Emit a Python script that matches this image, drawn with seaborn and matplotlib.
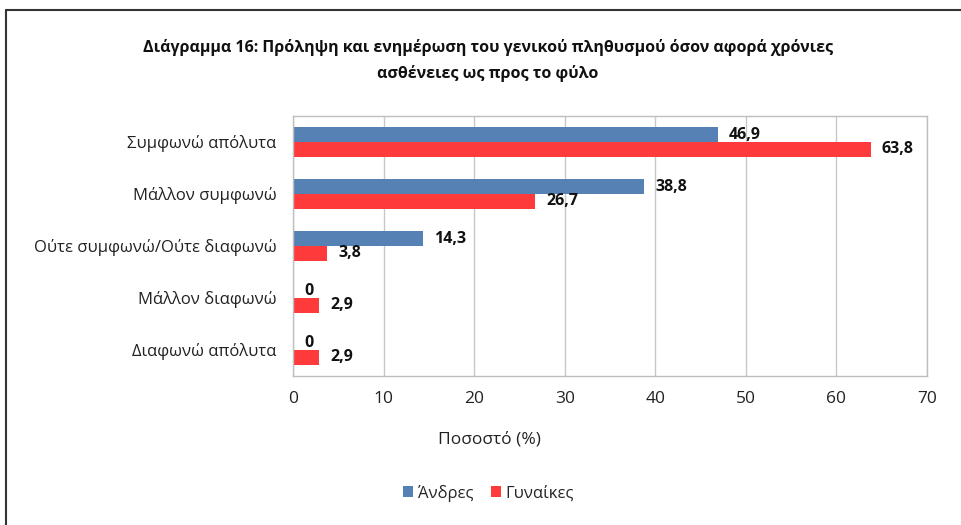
import matplotlib
matplotlib.use("Agg")
import matplotlib.pyplot as plt
from matplotlib.lines import Line2D
from matplotlib.patches import Patch
import seaborn as sns
import pandas as pd

categories = ["Συμφωνώ απόλυτα", "Μάλλον συμφωνώ", "Ούτε συμφωνώ/Ούτε διαφωνώ",
              "Μάλλον διαφωνώ", "Διαφωνώ απόλυτα"]
men = [46.9, 38.8, 14.3, 0, 0]
women = [63.8, 26.7, 3.8, 2.9, 2.9]
series = ["Άνδρες", "Γυναίκες"]
colors = ["#5681B4", "#FF3A3A"]
xticks = [0, 10, 20, 30, 40, 50, 60, 70]

df = pd.DataFrame({
    "cat": categories * 2,
    "val": men + women,
    "sex": [series[0]] * len(categories) + [series[1]] * len(categories),
})

sns.set_theme(style="white")
plt.rcParams["font.family"] = ["Open Sans", "DejaVu Sans"]

fig = plt.figure(figsize=(9.62, 5.25), dpi=100)
ax = fig.add_axes([293 / 962, 1 - 376 / 525, (927 - 293) / 962, (376 - 116) / 525])

sns.barplot(data=df, y="cat", x="val", hue="sex", order=categories, hue_order=series,
            palette=colors, orient="h", width=0.57, gap=0, ax=ax, legend=False,
            saturation=1, errorbar=None, linewidth=0)

ax.set_xlim(0, 70)
ax.set_xticks(xticks)
ax.set_xticklabels([str(t) for t in xticks], fontsize=12.5, color="#222222")
ax.tick_params(axis="x", pad=11, length=0)
ax.tick_params(axis="y", length=0, pad=12, labelsize=12, labelcolor="#222222")
ax.set_ylabel("")
ax.set_xlabel("")
ax.grid(axis="x", color="#C8C8C8", linewidth=1)
ax.set_axisbelow(True)
for s in ax.spines.values():
    s.set_color("#BEBEBE")
    s.set_linewidth(1)

def fmt(v):
    return ("%g" % v).replace(".", ",")

for i, cont in enumerate(ax.containers):
    labels = [fmt(v) for v in (men if i == 0 else women)]
    ax.bar_label(cont, labels=labels, padding=8, fontsize=11.5, fontweight="bold",
                 color="#111111")

fig.text(489 / 962, 1 - 440 / 525, "Ποσοστό (%)", ha="center", va="center",
         fontsize=12.5, color="#222222")

fig.text(0.507, 1 - 48 / 525, "Διάγραμμα 16: Πρόληψη και ενημέρωση του γενικού πληθυσμού όσον αφορά χρόνιες",
         ha="center", va="center", fontsize=11.5, fontweight="bold", color="#111111")
fig.text(0.507, 1 - 73 / 525, "ασθένειες ως προς το φύλο",
         ha="center", va="center", fontsize=11.5, fontweight="bold", color="#111111")

handles = [Patch(facecolor=c, edgecolor="none") for c in colors]
fig.legend(handles, series, loc="center", bbox_to_anchor=(0.508, 1 - 493 / 525), ncol=2,
           frameon=False, fontsize=12, handlelength=0.6, handleheight=0.6,
           handletextpad=0.3, columnspacing=1.0)

fig.add_artist(Line2D([6 / 962, 6 / 962], [0, 1 - 10 / 525], color="#333333", linewidth=1.5))
fig.add_artist(Line2D([6 / 962, 1], [1 - 10 / 525, 1 - 10 / 525], color="#333333", linewidth=1.5))

fig.savefig("out.png", dpi=100)
